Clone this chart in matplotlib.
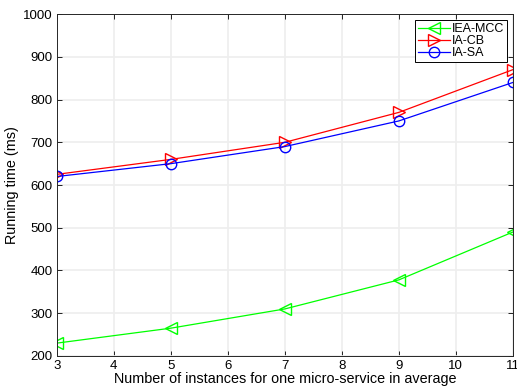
import matplotlib
matplotlib.use("Agg")
import matplotlib.pyplot as plt

plt.rcParams['font.family'] = ['Liberation Sans', 'DejaVu Sans']

instances = [3, 5, 7, 9, 11]
iea_mcc = [230, 265, 310, 378, 490]
ia_cb = [625, 660, 700, 770, 870]
ia_sa = [620, 650, 690, 750, 840]

fig = plt.figure(figsize=(5.17, 3.92), dpi=100)
ax = fig.add_axes([0.110, 0.092, 0.882, 0.872])

ax.plot(instances, iea_mcc, color='#00ff00', marker='<', markersize=8,
        markerfacecolor='none', linewidth=0.9, label='IEA-MCC')
ax.plot(instances, ia_cb, color='#ff0000', marker='>', markersize=8,
        markerfacecolor='none', linewidth=0.9, label='IA-CB')
ax.plot(instances, ia_sa, color='#0000ff', marker='o', markersize=7.5,
        markerfacecolor='none', linewidth=0.9, label='IA-SA')

ax.set_xlim(3, 11)
ax.set_ylim(200, 1000)
ax.set_xticks(range(3, 12))
ax.set_yticks(range(200, 1001, 100))
ax.grid(True, color='#eeeeee', linewidth=1.2)
ax.set_axisbelow(True)
ax.tick_params(direction='in', labelsize=9.5, length=3.5, width=0.6,
               top=True, right=True, pad=3)
for s in ax.spines.values():
    s.set_linewidth(0.7)
    s.set_color('#262626')

ax.set_xlabel('Number of instances for one micro-service in average', fontsize=10.4, labelpad=0)
ax.set_ylabel('Running time (ms)', fontsize=10.4, labelpad=3)

leg = ax.legend(loc='upper right', fontsize=9, fancybox=False, framealpha=1,
                edgecolor='black', borderpad=0.25, labelspacing=0.0,
                handlelength=2.5, handletextpad=0.15, borderaxespad=0.35,
                bbox_to_anchor=(0.997, 0.995))
leg.get_frame().set_linewidth(0.7)

fig.savefig('out.png', dpi=100)
